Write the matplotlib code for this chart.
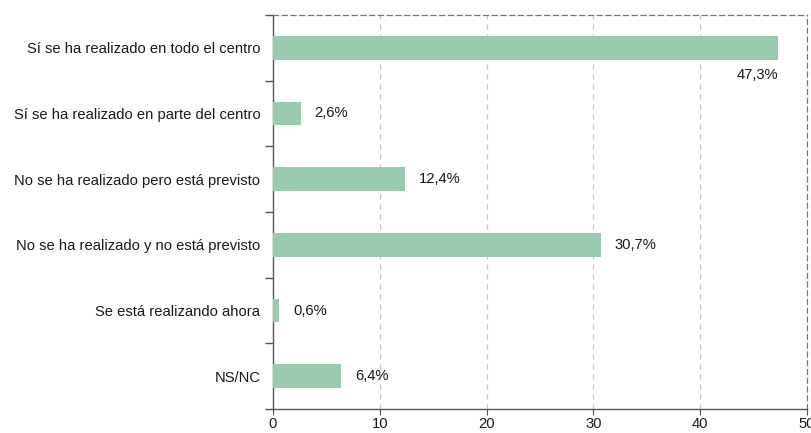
import numpy as np
import matplotlib
matplotlib.use("Agg")
import matplotlib.pyplot as plt

plt.rcParams['font.family'] = ['Liberation Sans', 'DejaVu Sans']

# Data
categories = [
    "Sí se ha realizado en todo el centro",
    "Sí se ha realizado en parte del centro",
    "No se ha realizado pero está previsto",
    "No se ha realizado y no está previsto",
    "Se está realizando ahora",
    "NS/NC",
]
values = [47.3, 2.6, 12.4, 30.7, 0.6, 6.4]
value_labels = ["47,3%", "2,6%", "12,4%", "30,7%", "0,6%", "6,4%"]
x_ticks = [0, 10, 20, 30, 40, 50]

BAR_COLOR = "#9acbb1"
AXIS_COLOR = "#555555"
GRID_COLOR = "#c4c4c4"
TEXT_COLOR = "#1a1a1a"
FS = 10.6

fig = plt.figure(figsize=(8.12, 4.33), dpi=100)
ax = fig.add_axes([0.336, 0.0554, 0.658, 0.91])

n = len(categories)
ypos = np.arange(n)[::-1]
ax.barh(ypos, values, height=0.36, color=BAR_COLOR, zorder=3)

for y, v, lab in zip(ypos, values, value_labels):
    if v > 45:
        ax.text(v, y - 0.3, lab, ha='right', va='top', fontsize=FS, color=TEXT_COLOR)
    else:
        ax.text(v + 1.3, y, lab, ha='left', va='center', fontsize=FS, color=TEXT_COLOR)

ax.set_xlim(0, 50)
ax.set_ylim(-0.5, n - 0.5)
ax.set_xticks(x_ticks)
ax.set_xticklabels([str(t) for t in x_ticks], fontsize=FS, color=TEXT_COLOR)
ax.set_yticks(ypos)
ax.set_yticklabels(categories, fontsize=FS, color=TEXT_COLOR)
ax.tick_params(axis='y', length=0, pad=9)
ax.set_yticks(np.arange(-0.5, n, 1.0), minor=True)
ax.tick_params(axis='y', which='minor', length=6, color=AXIS_COLOR, width=1)
ax.tick_params(axis='x', length=4, color=AXIS_COLOR, pad=2)

# grid
for t in x_ticks[1:-1]:
    ax.axvline(t, color=GRID_COLOR, linestyle=(0, (4, 4)), linewidth=0.9, zorder=1)

for s in ['left', 'bottom']:
    ax.spines[s].set_color(AXIS_COLOR)
    ax.spines[s].set_linewidth(1.0)
for s in ['top', 'right']:
    ax.spines[s].set_color("#777777")
    ax.spines[s].set_linestyle((0, (4, 3)))
    ax.spines[s].set_linewidth(0.9)

fig.savefig("out.png", dpi=100, facecolor='white')
